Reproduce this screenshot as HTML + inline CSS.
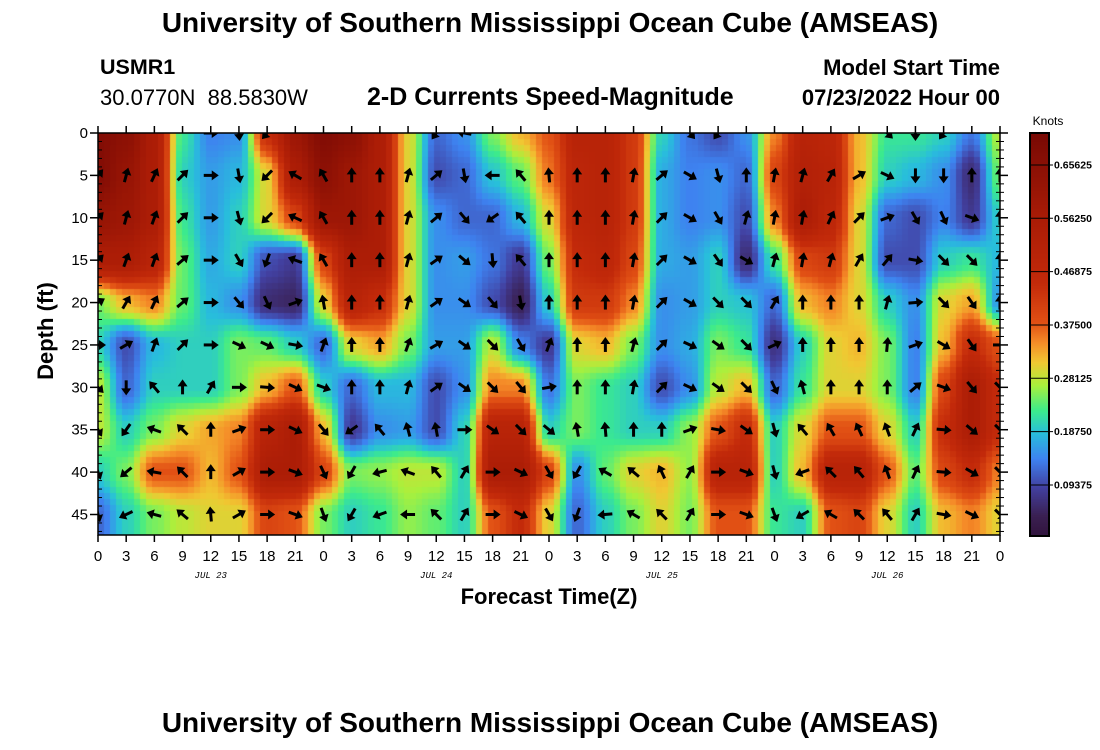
<!DOCTYPE html>
<html><head><meta charset="utf-8">
<style>
body{margin:0;background:#fff;width:1100px;height:750px;overflow:hidden;font-family:"Liberation Sans",sans-serif;}
#wrap{position:relative;width:1100px;height:750px;}
.t{position:absolute;white-space:nowrap;color:#000;}
</style></head>
<body>
<div id="wrap">
<div class="t" style="left:0;width:1100px;text-align:center;top:7px;font-size:28px;font-weight:bold;">University of Southern Mississippi Ocean Cube (AMSEAS)</div>
<div class="t" style="left:100px;top:55px;font-size:21.5px;font-weight:bold;">USMR1</div>
<div class="t" style="left:100px;top:85px;font-size:22px;white-space:pre;">30.0770N  88.5830W</div>
<div class="t" style="left:367px;top:83px;font-size:25px;font-weight:bold;">2-D Currents Speed-Magnitude</div>
<div class="t" style="right:100px;top:55px;font-size:22px;font-weight:bold;">Model Start Time</div>
<div class="t" style="right:100px;top:85px;font-size:22px;font-weight:bold;">07/23/2022 Hour 00</div>
<div class="t" style="left:0;width:1100px;text-align:center;top:707px;font-size:28px;font-weight:bold;">University of Southern Mississippi Ocean Cube (AMSEAS)</div>
<canvas id="heat" width="902" height="402" style="position:absolute;left:98px;top:133px;"></canvas>
<canvas id="cbar" width="17" height="401" style="position:absolute;left:1031px;top:134px;"></canvas>
<svg id="svg" width="1100" height="750" style="position:absolute;left:0;top:0;"></svg>
</div>
<script>
// depth rows (ft) and time columns (hours since start)
const depths=[0,5,10,15,20,25,30,35,40,45];
const hours=[0,3,6,9,12,15,18,21,24,27,30,33,36,39,42,45,48,51,54,57,60,63,66,69,72,75,78,81,84,87,90,93,96];
// speed (knots), one array per depth row
const speed0 =[0.68,0.65,0.55,0.22,0.14,0.15,0.45,0.6,0.68,0.65,0.55,0.3,0.12,0.15,0.25,0.32,0.38,0.5,0.5,0.42,0.2,0.13,0.1,0.15,0.35,0.5,0.48,0.32,0.22,0.22,0.2,0.13,0.28];
const speed5 =[0.68,0.62,0.55,0.2,0.16,0.18,0.3,0.55,0.65,0.6,0.55,0.3,0.1,0.12,0.19,0.24,0.36,0.48,0.5,0.42,0.17,0.14,0.15,0.12,0.4,0.52,0.5,0.32,0.2,0.18,0.15,0.06,0.25];
const speed10=[0.62,0.6,0.55,0.22,0.16,0.2,0.3,0.4,0.6,0.6,0.55,0.3,0.15,0.12,0.12,0.18,0.3,0.48,0.5,0.42,0.17,0.14,0.15,0.1,0.35,0.55,0.48,0.3,0.12,0.1,0.14,0.08,0.2];
const speed15=[0.55,0.55,0.5,0.24,0.17,0.2,0.1,0.08,0.4,0.55,0.55,0.3,0.15,0.16,0.13,0.08,0.25,0.45,0.48,0.4,0.17,0.16,0.2,0.06,0.22,0.4,0.42,0.3,0.1,0.1,0.2,0.22,0.18];
const speed20=[0.25,0.32,0.35,0.24,0.18,0.15,0.06,0.05,0.3,0.5,0.45,0.3,0.15,0.15,0.1,0.04,0.2,0.42,0.42,0.35,0.15,0.16,0.2,0.19,0.12,0.32,0.35,0.3,0.2,0.15,0.3,0.33,0.15];
const speed25=[0.2,0.1,0.18,0.2,0.2,0.25,0.24,0.2,0.12,0.3,0.33,0.25,0.16,0.16,0.28,0.14,0.08,0.3,0.32,0.25,0.15,0.17,0.25,0.22,0.07,0.2,0.3,0.32,0.25,0.14,0.32,0.45,0.38];
const speed30=[0.28,0.12,0.2,0.2,0.2,0.25,0.32,0.38,0.2,0.12,0.18,0.18,0.1,0.15,0.35,0.35,0.13,0.25,0.22,0.2,0.1,0.15,0.28,0.32,0.12,0.22,0.3,0.3,0.25,0.14,0.4,0.55,0.45];
const speed35=[0.28,0.2,0.25,0.3,0.33,0.35,0.5,0.55,0.32,0.08,0.15,0.16,0.1,0.2,0.5,0.5,0.2,0.25,0.22,0.2,0.2,0.26,0.38,0.45,0.2,0.3,0.38,0.38,0.3,0.2,0.45,0.55,0.45];
const speed40=[0.2,0.25,0.38,0.38,0.32,0.38,0.55,0.55,0.4,0.25,0.26,0.28,0.28,0.2,0.55,0.55,0.4,0.15,0.24,0.3,0.32,0.26,0.5,0.5,0.2,0.32,0.5,0.5,0.38,0.24,0.4,0.45,0.35];
const speed45=[0.12,0.2,0.25,0.28,0.3,0.3,0.4,0.38,0.25,0.2,0.22,0.26,0.24,0.2,0.38,0.45,0.3,0.12,0.2,0.25,0.3,0.25,0.38,0.38,0.22,0.2,0.38,0.4,0.3,0.2,0.32,0.35,0.3];
const speedRows=[speed0,speed5,speed10,speed15,speed20,speed25,speed30,speed35,speed40,speed45];
// current direction (compass degrees, 0 = up/north); null = no arrow
const dir0 =[null,null,null,null,90,175,220,null,null,null,null,null,215,280,null,null,null,null,null,null,null,140,215,null,null,null,null,null,135,180,215,null,null];
const dir5 =[40,15,25,45,90,170,225,300,330,0,0,15,50,170,270,320,355,0,0,10,50,120,165,0,10,15,30,60,115,180,180,0,0];
const dir10=[45,15,20,45,90,165,225,295,330,0,0,15,50,140,235,320,0,0,0,10,45,120,150,15,10,10,25,45,70,150,155,110,0];
const dir15=[45,20,20,50,90,150,200,290,330,0,0,15,55,130,175,320,0,0,0,10,45,120,145,120,15,10,15,30,40,100,135,135,0];
const dir20=[60,30,25,50,90,140,155,70,350,0,0,15,55,125,140,170,0,0,0,10,45,120,135,135,30,0,0,0,15,85,135,145,0];
const dir25=[90,60,20,45,90,115,115,100,20,0,0,20,60,125,135,150,20,0,0,15,45,115,125,135,65,0,0,0,5,70,120,145,90];
const dir30=[135,180,320,0,30,90,95,115,110,0,0,15,55,125,135,140,80,0,0,10,45,115,125,135,155,345,0,0,0,50,110,140,135];
const dir35=[150,215,290,315,0,70,90,115,140,235,320,345,350,90,125,135,130,350,355,0,0,70,100,125,165,320,330,335,340,25,95,130,135];
const dir40=[160,230,280,315,0,60,90,110,155,210,255,290,320,30,90,115,150,210,300,310,335,30,90,110,165,250,315,320,340,25,95,120,135];
const dir45=[165,245,285,310,355,60,90,110,160,210,250,270,315,30,90,115,150,200,265,300,315,30,90,110,160,240,300,315,320,30,100,115,135];
const dirRows=[dir0,dir5,dir10,dir15,dir20,dir25,dir30,dir35,dir40,dir45];
const yTicks=[0,5,10,15,20,25,30,35,40,45];
const xTickLabels=["0","3","6","9","12","15","18","21","0","3","6","9","12","15","18","21","0","3","6","9","12","15","18","21","0","3","6","9","12","15","18","21","0"];
const dayLabels=["JUL 23","JUL 24","JUL 25","JUL 26"];
const dayCenters=[12,36,60,84];
const cbTicks=[0.09375,0.1875,0.28125,0.375,0.46875,0.5625,0.65625];
const cbTickLabels=["0.09375","0.18750","0.28125","0.37500","0.46875","0.56250","0.65625"];

const PL=98,PR=1000,PT=133,PB=535;
const xScale=h=>PL+(PR-PL)*h/96;
const yScale=d=>PT+(514.5-PT)*d/45;
const cbScale=v=>538.3-v*568.9;

const stops=[[0.0,[48,18,59]],[0.04,[58,32,82]],[0.09,[66,64,160]],[0.14,[62,130,240]],[0.185,[40,190,220]],[0.225,[60,235,140]],[0.27,[170,240,60]],[0.31,[240,200,50]],[0.345,[245,140,40]],[0.38,[225,80,20]],[0.45,[195,42,10]],[0.56,[170,28,6]],[0.72,[118,8,4]]];
function color(v){
  if(v<=stops[0][0])return stops[0][1];
  for(let i=1;i<stops.length;i++){if(v<=stops[i][0]){const a=stops[i-1],b=stops[i];const t=(v-a[0])/(b[0]-a[0]);return a[1].map((c,k)=>Math.round(c+(b[1][k]-c)*t));}}
  return stops[stops.length-1][1];
}
function sample(h,d){
  let fi=h/3, fj=d/5;
  fi=Math.max(0,Math.min(hours.length-1,fi));fj=Math.max(0,Math.min(depths.length-1,fj));
  const i0=Math.min(Math.floor(fi),hours.length-2),j0=Math.min(Math.floor(fj),depths.length-2);
  const tx=fi-i0,ty=fj-j0;
  const a=speedRows[j0][i0],b=speedRows[j0][i0+1],c=speedRows[j0+1][i0],e=speedRows[j0+1][i0+1];
  const s=tx*tx*(3-2*tx),u=ty*ty*(3-2*ty);
  return (a*(1-s)+b*s)*(1-u)+(c*(1-s)+e*s)*u;
}
const hc=document.getElementById('heat').getContext('2d');
const cw=6,ch=6;
for(let py=0;py<402;py+=ch){for(let px=0;px<902;px+=cw){
  const h=(px+cw/2)/902*96; const d=(py+ch/2)/(514.5-PT)*45;
  const c=color(sample(h,d)); hc.fillStyle=`rgb(${c[0]},${c[1]},${c[2]})`; hc.fillRect(px,py,cw,ch);
}}
const cc=document.getElementById('cbar').getContext('2d');
for(let y=0;y<401;y++){const v=(538.3-(134+y))/568.9;const c=color(v);cc.fillStyle=`rgb(${c[0]},${c[1]},${c[2]})`;cc.fillRect(0,y,17,1);}

const NS='http://www.w3.org/2000/svg';
const svg=document.getElementById('svg');
function mk(tag,attrs,parent){const e=document.createElementNS(NS,tag);for(const k in attrs)e.setAttribute(k,attrs[k]);(parent||svg).appendChild(e);return e;}
const defs=mk('defs',{});
const cp=mk('clipPath',{id:'plotclip'},defs);mk('rect',{x:PL,y:PT,width:PR-PL,height:PB-PT},cp);
const ag=mk('g',{'clip-path':'url(#plotclip)'});


for(let j=0;j<depths.length;j++){for(let i=0;i<hours.length;i++){
  const a=dirRows[j][i]; if(a===null) continue;
  const x=xScale(hours[i]),y=yScale(depths[j]);
  const g=mk('g',{transform:`translate(${x},${y}) rotate(${a})`},ag);
  
  
  mk('line',{x1:0,y1:7,x2:0,y2:-2,stroke:'#000','stroke-width':3},g);
  mk('polygon',{points:'0,-8 -5,-1 5,-1',fill:'#000'},g);
}}
const fr=mk('rect',{x:PL,y:PT,width:PR-PL,height:PB-PT,fill:'none',stroke:'#000','stroke-width':1.5});


for(let d=0;d<=47;d++){const y=yScale(d);
  if(d%5===0){mk('line',{x1:PL-8,y1:y,x2:PL,y2:y,stroke:'#000','stroke-width':1.5});mk('line',{x1:PR,y1:y,x2:PR+8,y2:y,stroke:'#000','stroke-width':1.5});}
  else{mk('line',{x1:PL,y1:y,x2:PL+4,y2:y,stroke:'#000','stroke-width':1});mk('line',{x1:PR-4,y1:y,x2:PR+4,y2:y,stroke:'#000','stroke-width':1});}
}
yTicks.forEach(d=>{const t=mk('text',{x:PL-10,y:yScale(d)+5,'text-anchor':'end','font-size':15,'font-family':'Liberation Sans, sans-serif'});t.textContent=d;

});
hours.forEach((h,i)=>{const x=xScale(h);
  mk('line',{x1:x,y1:PB,x2:x,y2:PB+7,stroke:'#000','stroke-width':1.5});mk('line',{x1:x,y1:PT-7,x2:x,y2:PT,stroke:'#000','stroke-width':1.5});
  const t=mk('text',{x:x,y:561,'text-anchor':'middle','font-size':15,'font-family':'Liberation Sans, sans-serif'});t.textContent=xTickLabels[i];
  
  
});
dayLabels.forEach((l,i)=>{const t=mk('text',{x:xScale(dayCenters[i]),y:578,'text-anchor':'middle','font-size':9,'font-style':'italic','font-family':'Liberation Mono, monospace'});t.textContent=l;

});
const xt=mk('text',{x:549,y:604,'text-anchor':'middle','font-size':22,'font-weight':'bold','font-family':'Liberation Sans, sans-serif'});xt.textContent='Forecast Time(Z)';


const yt=mk('text',{x:0,y:0,transform:'translate(53,331) rotate(-90)','text-anchor':'middle','font-size':22,'font-weight':'bold','font-family':'Liberation Sans, sans-serif'});yt.textContent='Depth (ft)';


const cbf=mk('rect',{x:1030,y:133,width:19,height:403,fill:'none',stroke:'#000','stroke-width':2});


cbTicks.forEach((v,i)=>{const y=cbScale(v);mk('line',{x1:1030,y1:y,x2:1053,y2:y,stroke:'#000','stroke-width':1});
  const t=mk('text',{x:1054,y:y+3.5,'font-size':10.5,'font-weight':'bold','font-family':'Liberation Sans, sans-serif'});t.textContent=cbTickLabels[i];
  
  });
const kt=mk('text',{x:1048,y:125,'text-anchor':'middle','font-size':12,'font-family':'Liberation Sans, sans-serif'});kt.textContent='Knots';


</script>
</body></html>
